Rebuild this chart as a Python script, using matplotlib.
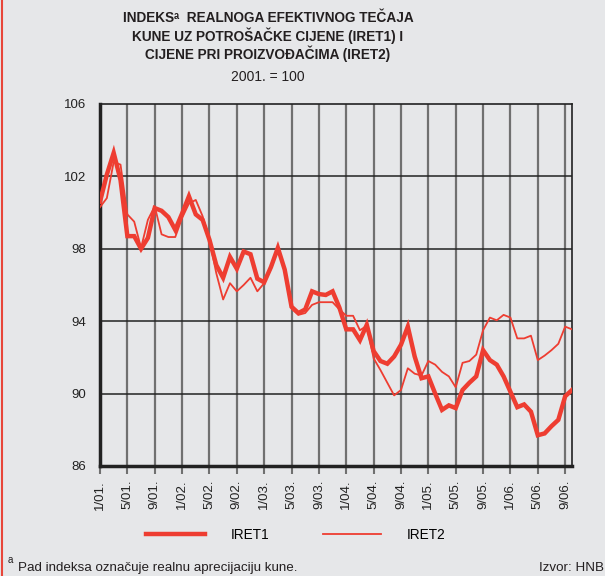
import matplotlib
matplotlib.use("Agg")
import matplotlib.pyplot as plt
from matplotlib.lines import Line2D
import numpy as np

# ---- data (monthly, 1/01 .. 10/06) ----
iret1 = [100.6, 102.1, 103.3, 101.8, 98.7, 98.7, 98.0, 98.6, 100.25, 100.1, 99.75, 99.05,
         99.95, 100.9, 99.9, 99.6, 98.5, 97.1, 96.4, 97.55, 96.9, 97.85, 97.7, 96.35,
         96.15, 97.0, 98.05, 96.85, 94.8, 94.45, 94.65, 95.65, 95.5, 95.45, 95.65, 94.75,
         93.55, 93.55, 92.95, 93.8, 92.35, 91.8, 91.65, 92.05, 92.7, 93.7, 92.05, 90.85,
         90.95, 90.0, 89.1, 89.35, 89.2, 90.2, 90.6, 90.95, 92.4, 91.85, 91.6, 90.95,
         90.1, 89.25, 89.4, 89.0, 87.7, 87.8, 88.2, 88.55, 89.85, 90.2]
iret2 = [100.3, 100.8, 102.8, 102.65, 99.9, 99.5, 98.05, 99.6, 100.35, 98.8, 98.65, 98.65,
         99.7, 100.5, 100.7, 99.8, 98.5, 96.65, 95.2, 96.1, 95.65, 96.0, 96.4, 95.65,
         96.1, 96.9, 98.0, 96.85, 94.7, 94.35, 94.45, 94.9, 95.05, 95.05, 95.05, 94.65,
         94.3, 94.3, 93.5, 93.75, 91.95, 91.3, 90.6, 89.9, 90.2, 91.4, 91.1, 91.0,
         91.8, 91.6, 91.2, 90.95, 90.35, 91.7, 91.8, 92.15, 93.5, 94.2, 94.05, 94.35,
         94.2, 93.05, 93.05, 93.2, 91.85, 92.1, 92.4, 92.75, 93.7, 93.55]
tick_labels = ["1/01.", "5/01.", "9/01.", "1/02.", "5/02.", "9/02.", "1/03.", "5/03.",
               "9/03.", "1/04.", "5/04.", "9/04.", "1/05.", "5/05.", "9/05.", "1/06.",
               "5/06.", "9/06."]
y_ticks = [86, 90, 94, 98, 102, 106]
series_names = ["IRET1", "IRET2"]

BG = "#e6e7e9"
RED = "#ee3d31"
FONT = ["Liberation Sans", "DejaVu Sans"]

plt.rcParams["font.family"] = FONT

fig = plt.figure(figsize=(6.05, 5.76), dpi=100, facecolor=BG)
ax = fig.add_axes([100 / 605, 1 - 466 / 576, 472 / 605, 362 / 576])
ax.set_facecolor(BG)

x = np.arange(len(iret1))
ax.plot(x, iret1, color=RED, lw=3.2, solid_joinstyle="miter", label=series_names[0], zorder=4)
ax.plot(x, iret2, color=RED, lw=1.3, label=series_names[1], zorder=3)

ax.set_xlim(0, len(iret1) - 1)
ax.set_ylim(86, 106)

xt = np.arange(0, 4 * len(tick_labels), 4)
ax.set_xticks(xt)
ax.set_xticklabels(tick_labels, rotation=90, fontsize=9.5, color="#222222")
ax.set_yticks(y_ticks)
ax.set_yticklabels([str(v) for v in y_ticks], fontsize=9.5, color="#222222")
ax.tick_params(axis="y", length=0, pad=10)
ax.tick_params(axis="x", length=6, width=1.5, color="#707070", pad=4, direction="out")

for v in xt[1:]:
    ax.axvline(v, color="#707070", lw=1.6, zorder=1)
for v in y_ticks[1:-1]:
    ax.axhline(v, color="#222222", lw=1.1, zorder=2)

ax.spines["left"].set_linewidth(2.5)
ax.spines["bottom"].set_linewidth(2.5)
ax.spines["top"].set_linewidth(1.2)
ax.spines["right"].set_linewidth(1.2)
for s in ax.spines.values():
    s.set_color("#222222")

# title
cx = 268 / 605
tfs = 9.8
fig.text(cx, 1 - 18 / 576, "INDEKS\u1d43  REALNOGA EFEKTIVNOG TEČAJA", ha="center", va="center",
         fontsize=tfs, fontweight="bold", color="#231f20")
fig.text(cx, 1 - 36 / 576, "KUNE UZ POTROŠAČKE CIJENE (IRET1) I", ha="center", va="center",
         fontsize=tfs, fontweight="bold", color="#231f20")
fig.text(cx, 1 - 54 / 576, "CIJENE PRI PROIZVOĐAČIMA (IRET2)", ha="center", va="center",
         fontsize=tfs, fontweight="bold", color="#231f20")
fig.text(cx, 1 - 77 / 576, "2001. = 100", ha="center", va="center",
         fontsize=10, color="#231f20")

# legend
leg = fig.legend(loc="center", bbox_to_anchor=(296 / 605, 1 - 535 / 576), ncol=2,
                 frameon=False, fontsize=9.8, handlelength=4.3, handletextpad=1.9,
                 columnspacing=3.9)

# footnote
fig.text(8 / 605, 1 - 560 / 576, "a", fontsize=7, va="center", ha="left", color="#231f20")
fig.text(18 / 605, 1 - 568 / 576, "Pad indeksa označuje realnu aprecijaciju kune.", fontsize=9.6,
         va="center", ha="left", color="#231f20")
fig.text(604 / 605, 1 - 568 / 576, "Izvor: HNB", fontsize=9.6, va="center", ha="right",
         color="#231f20")

# red left border
fig.add_artist(Line2D([2 / 605, 2 / 605], [0, 1], transform=fig.transFigure, color="#e8463a", lw=1.5))

fig.savefig("out.png", dpi=100, facecolor=BG)
